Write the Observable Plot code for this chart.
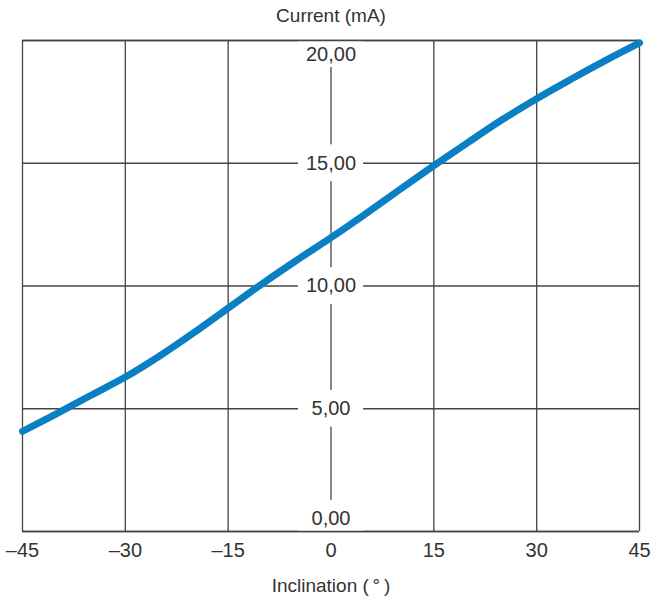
<!DOCTYPE html>
<html>
<head>
<meta charset="utf-8">
<script src="https://cdn.jsdelivr.net/npm/d3@7"></script>
<script src="https://cdn.jsdelivr.net/npm/@observablehq/plot@0.6"></script>
<style>
  html, body { margin: 0; padding: 0; background: #fff; }
  #chart svg { display: block; }
</style>
</head>
<body>
<div id="chart"></div>
<script>
// Data
const inclination = [-45, -40, -35, -30, -25, -20, -15, -10, -5, 0, 5, 10, 15, 20, 25, 30, 35, 40, 45];
const current     = [4.08, 4.8, 5.55, 6.29, 7.15, 8.1, 9.1, 10.1, 11.05, 11.97, 12.93, 13.92, 14.9, 15.85, 16.78, 17.63, 18.42, 19.18, 19.9];
const xTicks = [-45, -30, -15, 0, 15, 30, 45];
const yTicks = [0, 5, 10, 15, 20];
const title = "Current (mA)";
const xLabel = "Inclination (\u2009°\u2009)";

const data = inclination.map((x, i) => ({x, y: current[i]}));
const fmtY = v => v.toFixed(2).replace(".", ",");
const fmtX = v => v < 0 ? "\u2013" + Math.abs(v) : String(v);
const ink = "#333";
const grid = "#444";
const font = "Liberation Sans, Arial, sans-serif";

const inner = yTicks.filter(v => v !== 0 && v !== 20);
const chart = Plot.plot({
  width: 652,
  height: 600,
  marginLeft: 22,
  marginRight: 13,
  marginTop: 40,
  marginBottom: 69,
  style: {fontFamily: font, fontSize: "19px", color: ink, background: "#fff"},
  x: {domain: [-45, 45], axis: null},
  y: {domain: [0, 20], axis: null},
  marks: [
    Plot.ruleX(xTicks, {stroke: grid, strokeWidth: 1.3}),
    Plot.ruleY(yTicks, {stroke: grid, strokeWidth: 1.3}),
    // white label backgrounds that break the grid
    Plot.rect(inner, {x1: -4.75, x2: 4.75, y1: d => d - 0.75, y2: d => d + 0.75, fill: "white"}),
    Plot.rect([0], {x1: -4.75, x2: 4.75, y1: d => d, y2: d => d + 1.27, fill: "white"}),
    Plot.rect([20], {x1: -4.75, x2: 4.75, y1: d => d - 1.1, y2: d => d, fill: "white"}),
    Plot.ruleY([0, 20], {stroke: grid, strokeWidth: 1.3}),
    Plot.text(inner, {x: 0, y: d => d, text: fmtY, fill: ink, fontSize: 20}),
    Plot.text([0], {x: 0, y: d => d, text: fmtY, fill: ink, fontSize: 20, dy: -13}),
    Plot.text([20], {x: 0, y: d => d, text: fmtY, fill: ink, fontSize: 20, dy: 14}),
    Plot.axisX(xTicks, {tickSize: 0, tickPadding: 11, tickFormat: fmtX, label: null, fontSize: 20, color: ink}),
    Plot.text([title], {frameAnchor: "top", text: d => d, dy: -25, lineAnchor: "middle", fill: ink, fontSize: 19}),
    Plot.text([xLabel], {frameAnchor: "bottom", text: d => d, dy: 54, lineAnchor: "middle", fill: ink, fontSize: 19}),
    Plot.line(data, {x: "x", y: "y", stroke: "#0a7fc4", strokeWidth: 7, strokeLinecap: "round", curve: "monotone-x"})
  ]
});
document.getElementById("chart").append(chart);
</script>
</body>
</html>
